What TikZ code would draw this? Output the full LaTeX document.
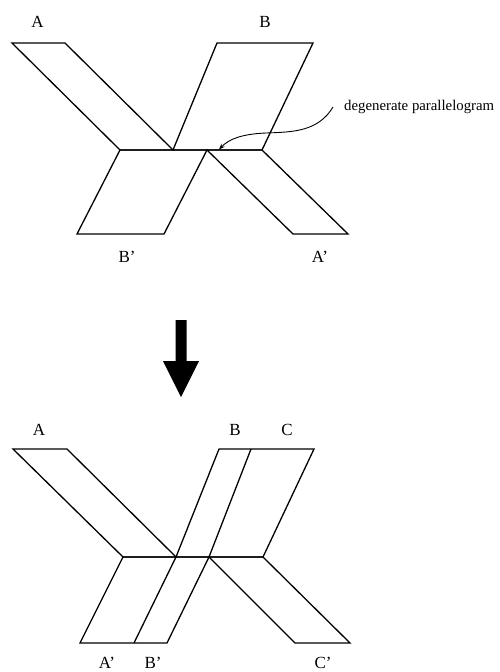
\documentclass[tikz,border=0pt]{standalone}
\usepackage{fontspec}
\setmainfont{Liberation Serif}
\usetikzlibrary{arrows.meta}
\begin{document}
\begin{tikzpicture}[x=1pt,y=-1pt,
  lbl/.style={font=\fontsize{17}{17}\selectfont, inner sep=0pt},
  note/.style={font=\fontsize{14.8}{15}\selectfont, inner sep=0pt, anchor=west},
  edge/.style={draw, line width=1.3pt, line join=miter},
  pointer/.style={draw, line width=0.9pt, -{Stealth[length=6pt,width=4.5pt]}},
  bigarrow/.style={fill=black, draw=none}]
\useasboundingbox (0,0) rectangle (499,672);

% ---------- top figure ----------
\coordinate (ta1) at (12,43);  \coordinate (ta2) at (65,43);
\coordinate (tb1) at (217,43); \coordinate (tb2) at (313,43);
\coordinate (tm1) at (120,150); \coordinate (tm2) at (173,150);
\coordinate (tm3) at (207,150); \coordinate (tm4) at (262,150);
\coordinate (tq1) at (77,234); \coordinate (tq2) at (164,234);
\coordinate (tq3) at (293,234); \coordinate (tq4) at (348,234);

\path[edge] (ta1) -- (ta2) -- (tm2) -- (tm1) -- cycle;
\path[edge] (tb1) -- (tb2) -- (tm4) -- (tm2) -- cycle;
\path[edge] (tm1) -- (tm3) -- (tq2) -- (tq1) -- cycle;
\path[edge] (tm3) -- (tm4) -- (tq4) -- (tq3) -- cycle;

\node[lbl] (tA) at (37.5,22) {A};
\node[lbl] (tB) at (265,22) {B};
\node[lbl] (tBp) at (127,257) {B'};
\node[lbl] (tAp) at (320,257) {A'};

\node[note] (deg) at (344,107) {degenerate parallelogram};
\coordinate (degtip) at (219,149.5);
\path[pointer] (deg.west) ++(-11,0) .. controls (318,132) and (292,132) .. (266,133)
  .. controls (242,134) and (229,139) .. (degtip);

% ---------- big arrow ----------
\path[bigarrow] (175.5,320) -- (186.5,320) -- (186.5,361) -- (199,361)
  -- (181,397) -- (163,361) -- (175.5,361) -- cycle;

% ---------- bottom figure ----------
\coordinate (ba1) at (13,449);  \coordinate (ba2) at (67,449);
\coordinate (bb1) at (219,449); \coordinate (bb2) at (251,449); \coordinate (bb3) at (314,449);
\coordinate (bm1) at (123,557); \coordinate (bm2) at (176,557);
\coordinate (bm3) at (209,557); \coordinate (bm4) at (263,557);
\coordinate (bq1) at (80,643);  \coordinate (bq2) at (134,643);
\coordinate (bq3) at (167,643); \coordinate (bq4) at (295,643); \coordinate (bq5) at (350,643);

\path[edge] (ba1) -- (ba2) -- (bm2) -- (bm1) -- cycle;
\path[edge] (bb1) -- (bb3) -- (bm4) -- (bm2) -- cycle;
\path[edge] (bb2) -- (bm3);
\path[edge] (bm1) -- (bm3) -- (bq3) -- (bq1) -- cycle;
\path[edge] (bm2) -- (bq2);
\path[edge] (bm3) -- (bm4) -- (bq5) -- (bq4) -- cycle;

\node[lbl] (bA) at (39,430) {A};
\node[lbl] (bB) at (235,430) {B};
\node[lbl] (bC) at (287,430) {C};
\node[lbl] (bAp) at (107,663) {A'};
\node[lbl] (bBp) at (153,663) {B'};
\node[lbl] (bCp) at (323,663) {C'};
\end{tikzpicture}
\end{document}
